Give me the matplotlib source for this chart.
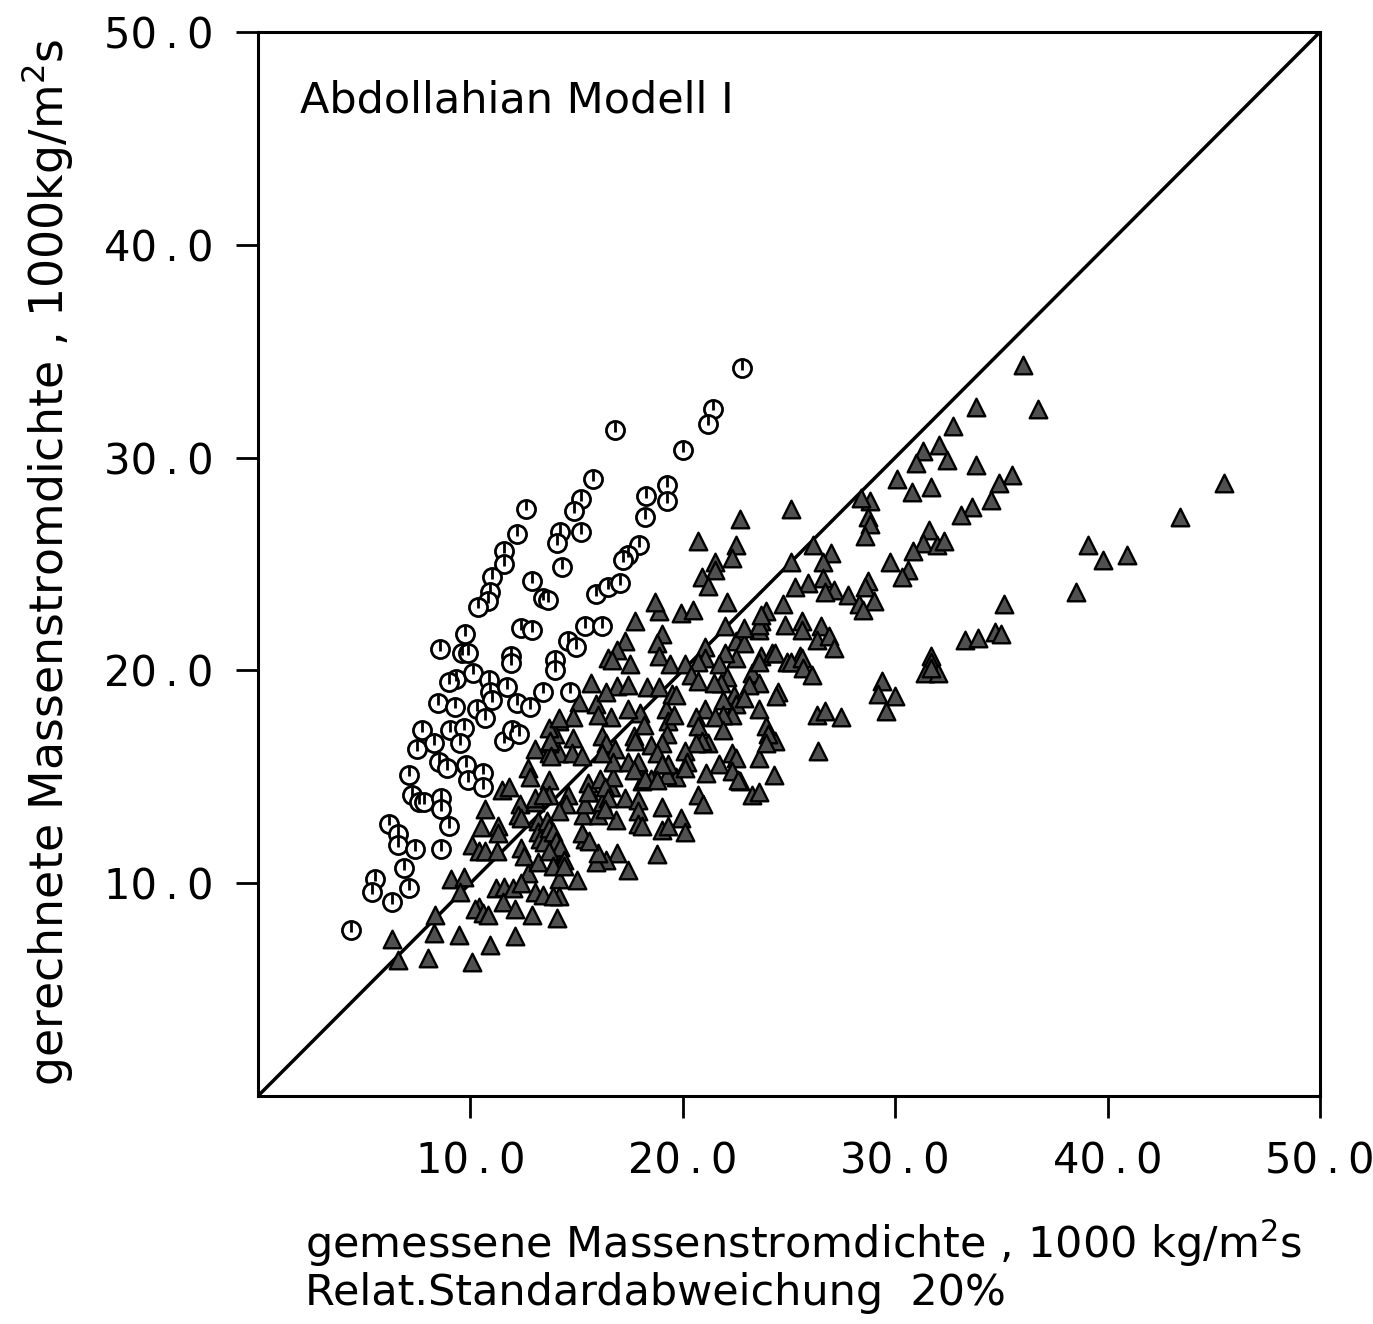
import matplotlib
matplotlib.use("Agg")
import matplotlib.pyplot as plt
import numpy as np

# ---- data ----
circle_x = [22.8, 16.8, 21.4, 21.2, 20.0, 19.25, 19.25, 15.76, 15.2, 14.86, 12.63,
            14.2, 14.1, 15.2, 12.2, 11.6, 11.6, 11.0, 10.9, 10.85, 10.35, 14.3,
            12.9, 13.4, 13.65, 18.26, 18.2, 17.96, 17.4, 17.2, 15.9, 16.5, 17.05,
            9.76, 9.6, 9.9, 11.9, 12.4, 12.9, 15.4, 16.2, 14.6, 14.96, 14.0, 14.0,
            14.7, 8.56, 9.3, 9.0, 10.1, 10.86, 10.9, 11.0, 11.7, 13.4, 11.9,
            8.47, 9.26, 10.3, 10.7, 12.2, 12.8, 7.7, 7.5, 8.3, 9.05, 9.7, 9.5,
            11.56, 11.95, 12.3, 8.5, 8.9, 9.8, 9.9, 10.6, 10.6, 7.1, 7.25, 7.6,
            7.8, 8.6, 8.6, 6.15, 6.6, 6.6, 7.4, 8.6, 9.0, 6.86, 5.5, 5.36, 7.1,
            6.3, 4.4]
circle_y = [34.2, 31.3, 32.3, 31.6, 30.35, 28.7, 27.95, 29.0, 28.06, 27.5, 27.6,
            26.5, 26.0, 26.5, 26.4, 25.6, 25.0, 24.4, 23.7, 23.25, 23.0, 24.85,
            24.2, 23.4, 23.3, 28.2, 27.2, 25.9, 25.4, 25.2, 23.6, 23.9, 24.1,
            21.7, 20.8, 20.8, 20.7, 22.0, 21.9, 22.1, 22.1, 21.4, 21.1, 20.5, 20.0,
            19.0, 21.0, 19.6, 19.45, 19.9, 19.56, 19.0, 18.6, 19.2, 19.0, 20.35,
            18.46, 18.3, 18.2, 17.75, 18.46, 18.26, 17.2, 16.3, 16.6, 17.2, 17.3, 16.6,
            16.66, 17.2, 17.0, 15.7, 15.4, 15.56, 14.86, 15.2, 14.5, 15.1, 14.15, 13.8,
            13.8, 14.0, 13.5, 12.8, 12.3, 11.8, 11.6, 11.6, 12.7, 10.7, 10.2, 9.6, 9.76,
            9.1, 7.8]

tri_x = [33.8, 32.7, 32.06, 31.3, 31.0, 32.45, 33.8, 30.1, 30.8, 31.7, 28.8, 28.4,
         28.7, 28.8, 28.6, 33.6, 33.1, 31.6, 31.3, 31.95, 32.3, 30.85, 29.75, 30.6,
         30.3, 27.0, 26.6, 26.15, 25.1, 25.1, 22.7, 20.7, 22.5, 22.3, 21.5, 21.5,
         20.9, 21.2, 22.1, 18.9, 18.7, 19.9, 20.5, 19.0, 18.8, 18.9, 22.0, 21.05,
         22.5, 22.9, 26.6, 25.9, 25.3, 27.1, 26.7, 27.8, 28.7, 28.6, 29.0, 28.3,
         28.5, 24.7, 23.9, 23.7, 23.6, 24.8, 25.6, 25.6, 26.5, 26.3, 26.9, 27.1,
         23.7, 24.2, 25.5, 33.3, 33.9, 31.7,
         36.0, 36.7, 35.5, 34.9, 34.5, 45.5, 43.4, 39.1, 39.8, 40.9, 38.5, 35.1,
         34.7, 35.0,
         24.35, 24.9, 25.1, 25.6, 25.65, 26.1, 31.7, 31.4, 32.0, 31.7, 29.4, 29.2,
         30.0, 29.55, 24.5, 24.4, 26.3, 26.7, 27.45, 24.35, 26.35, 24.3,
         22.7, 23.25, 23.6, 20.7, 20.97, 21.1, 19.7, 19.25, 18.1, 18.5, 19.0, 19.9,
         20.1, 19.0, 19.3, 17.3, 17.9, 17.9, 17.9, 18.1, 16.85, 18.8, 17.4, 16.9,
         16.4, 15.9, 16.0, 15.4, 15.25, 15.6, 15.3, 15.4, 15.6, 16.0, 16.2, 16.6,
         16.7, 14.15, 15.0, 14.15, 14.07, 14.0, 14.07, 14.2, 13.9, 14.6, 14.5, 14.15,
         17.75, 17.3, 16.9, 16.5, 17.5, 19.4, 22.9, 23.6, 23.7, 22.5, 22.0, 21.05,
         20.7, 20.1, 20.4, 20.7, 21.7, 22.1, 21.8, 21.45, 23.25, 23.6, 23.6, 23.1,
         22.4, 22.5, 22.3, 21.9, 21.9, 22.9, 23.6, 23.9, 24.0, 21.05, 20.6, 20.7,
         21.5, 21.9, 21.2, 20.9, 20.6, 22.3, 22.5, 21.7, 23.6, 23.9, 20.1, 20.2,
         20.1, 19.2, 19.3, 19.25, 19.0, 19.6, 18.5, 18.8, 19.3, 19.0, 18.0, 18.15,
         17.7, 17.75, 17.4, 16.6, 16.2, 16.4, 16.8, 16.7, 16.2, 15.7, 16.9, 17.4,
         18.3, 18.9, 16.66, 15.9, 16.0, 15.1, 14.85, 14.15, 14.0, 14.85, 14.15, 14.8,
         15.25, 17.4, 17.9, 17.7,
         13.7, 13.7, 13.05, 13.7, 12.7, 12.8, 13.7, 13.7, 11.5, 11.8, 12.35, 12.26,
         12.4, 13.05, 13.2, 10.7, 10.5, 11.3, 11.3, 12.4, 12.5, 13.2, 13.3, 13.45,
         10.07, 10.4, 10.7, 11.25, 12.7, 13.2, 9.1, 9.7, 9.5, 11.2, 11.6, 12.0,
         12.4, 10.4, 10.2, 10.6, 10.85, 11.55, 12.1, 12.9, 8.35, 8.27, 9.45, 10.9,
         12.1, 6.3, 6.6, 8.0, 10.07,
         13.05, 13.4, 14.15, 13.75, 13.8, 15.55, 15.55, 16.1, 16.35, 16.5, 16.35,
         18.2, 18.8, 22.3, 22.6, 16.4, 13.6, 13.7, 13.9, 14.05, 14.2, 13.7, 14.4,
         13.9, 14.4, 13.05, 13.4, 13.9, 19.5, 19.7]
tri_y = [32.4, 31.5, 30.6, 30.3, 29.76, 29.87, 29.65, 29.0, 28.4, 28.6, 27.95, 28.1,
         27.2, 26.9, 26.3, 27.7, 27.3, 26.6, 26.0, 25.9, 26.1, 25.6, 25.1, 24.7,
         24.4, 25.5, 25.1, 25.9, 25.1, 27.6, 27.1, 26.1, 25.9, 25.3, 25.1, 24.7,
         24.4, 23.95, 23.2, 22.8, 23.2, 22.7, 22.85, 21.7, 21.3, 20.7, 22.1, 21.1,
         21.4, 21.3, 24.35, 24.1, 23.9, 23.8, 23.7, 23.55, 24.2, 23.9, 23.25, 23.1,
         22.85, 23.1, 22.8, 22.3, 21.9, 22.15, 22.3, 21.9, 22.1, 21.45, 21.6, 21.05,
         20.7, 20.8, 20.7, 21.45, 21.5, 20.7,
         34.35, 32.3, 29.2, 28.8, 28.0, 28.8, 27.2, 25.9, 25.2, 25.4, 23.7, 23.1,
         21.8, 21.7,
         20.8, 20.4, 20.4, 20.6, 20.1, 19.8, 20.4, 19.9, 19.9, 20.1, 19.5, 18.9,
         18.8, 18.07, 19.0, 18.8, 17.9, 18.1, 17.8, 16.7, 16.2, 15.1,
         14.8, 14.15, 14.3, 14.15, 13.7, 15.2, 15.0, 15.1, 14.8, 14.9, 13.6, 13.05,
         12.4, 12.5, 12.7, 14.0, 13.9, 13.4, 12.8, 12.7, 12.97, 11.35, 10.6, 11.4,
         11.1, 11.0, 11.4, 12.1, 12.35, 12.0, 13.2, 13.7, 14.3, 13.2, 13.8, 14.5,
         15.0, 10.2, 10.15, 9.4, 8.35, 11.6, 11.2, 10.85, 12.1, 14.15, 13.7, 13.4,
         22.3, 21.4, 20.97, 20.6, 20.3, 20.3, 22.0, 22.15, 22.6, 20.6, 20.8, 20.6,
         20.4, 20.3, 19.8, 19.5, 20.3, 19.7, 19.4, 19.4, 19.9, 20.4, 19.4, 19.3,
         18.85, 18.4, 17.9, 18.6, 17.9, 18.7, 18.2, 17.4, 17.0, 18.2, 17.8, 17.4,
         17.8, 17.2, 16.6, 16.7, 16.6, 16.1, 15.9, 15.6, 15.9, 16.6, 16.2, 15.7,
         15.4, 18.2, 17.6, 17.0, 16.6, 17.9, 16.5, 16.1, 15.6, 15.6, 18.0, 17.45,
         16.9, 16.7, 18.2, 17.8, 16.9, 16.6, 16.3, 15.7, 16.1, 19.4, 19.25, 19.3,
         19.2, 19.2, 20.5, 18.4, 17.9, 18.5, 17.8, 17.6, 17.0, 16.8, 16.1, 16.1,
         16.0, 15.7, 15.7, 15.3,
         17.3, 16.6, 16.3, 16.1, 15.4, 15.0, 14.86, 14.15, 14.4, 14.5, 13.7, 13.2,
         13.05, 13.8, 12.9, 13.5, 12.66, 12.7, 12.35, 11.65, 11.3, 12.4, 12.1, 11.95,
         11.8, 11.5, 11.5, 11.5, 10.5, 11.0, 10.2, 10.3, 9.6, 9.76, 9.8, 9.76,
         10.0, 8.9, 8.8, 8.6, 8.5, 9.1, 8.8, 8.5, 8.5, 7.64, 7.56, 7.1,
         7.5, 7.4, 6.4, 6.5, 6.3,
         14.0, 14.15, 17.75, 16.7, 16.0, 14.7, 14.3, 14.9, 14.5, 14.0, 13.5,
         14.9, 14.86, 15.25, 14.86, 19.0, 12.9, 12.6, 12.4, 12.0, 11.7, 11.5, 11.1,
         10.8, 10.8, 9.6, 9.45, 9.4, 18.9, 18.85]

ticks = [10, 20, 30, 40, 50]
tick_labels = ["10\u2009.\u20090", "20\u2009.\u20090", "30\u2009.\u20090",
               "40\u2009.\u20090", "50\u2009.\u20090"]

plt.rcParams['font.family'] = ['DejaVu Sans']

fig = plt.figure(figsize=(13.73, 13.24), dpi=100)
ax = fig.add_axes([258 / 1373, 1 - 1096 / 1324, 1062 / 1373, 1064 / 1324])
ax.set_xlim(0, 50)
ax.set_ylim(0, 50)

ax.plot([0, 50], [0, 50], color='black', lw=2.5, zorder=1)

ax.scatter(tri_x, tri_y, marker='^', s=160, facecolor='#505050', edgecolor='black',
           linewidth=1.7, zorder=3)
ax.scatter(circle_x, circle_y, marker='o', s=170, facecolor='white', edgecolor='black',
           linewidth=2.0, zorder=4)
ax.scatter(circle_x, np.array(circle_y) + 0.15, marker='|', s=60, color='black',
           linewidth=2.0, zorder=5)

for s in ax.spines.values():
    s.set_linewidth(2.2)
ax.set_xticks(ticks)
ax.set_yticks(ticks)
ax.set_xticklabels(tick_labels)
ax.set_yticklabels(tick_labels)
ax.tick_params(axis='both', direction='out', length=16, width=2, pad=16,
               labelsize=30, colors='black')

ax.text(0.04, 0.924, "Abdollahian Modell I", transform=ax.transAxes,
        fontsize=31, va='baseline', ha='left')

fig.text(0.034, 0.575, r"gerechnete Massenstromdichte , 1000kg/m$^2$s",
         rotation=90, fontsize=33, ha='center', va='center')
fig.text(0.222, 0.0498, r"gemessene Massenstromdichte , 1000 kg/m$^2$s",
         fontsize=31, ha='left', va='baseline')
fig.text(0.222, 0.0144, "Relat.Standardabweichung  20%",
         fontsize=31, ha='left', va='baseline')

fig.savefig("out.png", dpi=100)
